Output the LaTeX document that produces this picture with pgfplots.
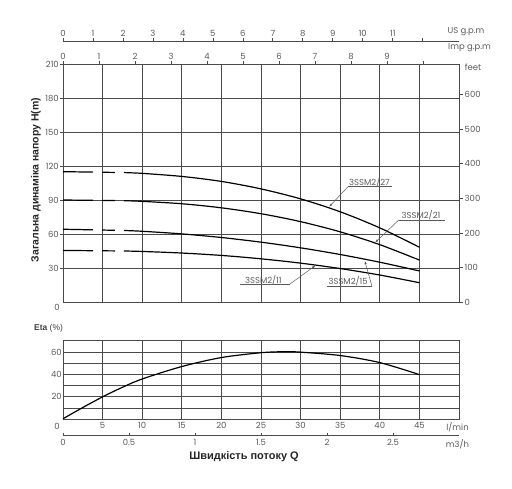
\documentclass[border=0pt]{standalone}
\usepackage{pgfplots}
\pgfplotsset{compat=1.18}
\usepackage{fontspec}
\setmainfont{Liberation Sans}
\newfontfamily\geo{Poppins}
\usetikzlibrary{arrows.meta}
\definecolor{gridc}{HTML}{4a4a4a}
\definecolor{txt}{HTML}{5a5a5a}
\tikzset{tl/.style={font=\geo\fontsize{8.5}{9}\selectfont, text=txt}}
\pgfplotsset{/pgf/number format/assume math mode=true}
\begin{document}
\begin{tikzpicture}
\useasboundingbox (0,0) rectangle (512bp,489bp);
% ---------------- main H axis
\begin{axis}[name=main, at={(63bp,187bp)}, anchor=south west, scale only axis,
  width=396bp, height=238bp, xmin=0, xmax=50, ymin=0, ymax=210,
  xtick={0,5,...,50}, xticklabels={}, ytick={30,60,...,210},
  grid=major, major grid style={gridc, line width=0.75bp},
  axis line style={gridc, line width=0.8bp},
  xtick style={draw=none}, ytick pos=left, tick align=outside,
  major tick length=3bp, ytick style={gridc, line width=0.7bp},
  yticklabel style={tl, inner sep=1bp},
  clip=false]
\addplot[black, line width=1.2bp, dash pattern=on 30bp off 9bp on 13bp off 9bp] coordinates {(0,115) (7.7,114.2)};
\addplot[black, line width=1.2bp, smooth] coordinates {(7.7,114.2) (10,113.5) (15,110.8) (20,106.4) (25,99.8) (30,91.0) (35,79.6) (40,65.4) (45,48.3)};
\addplot[black, line width=1.2bp, dash pattern=on 30bp off 9bp on 13bp off 9bp] coordinates {(0,90) (7.7,89.4)};
\addplot[black, line width=1.2bp, smooth] coordinates {(7.7,89.4) (10,88.8) (15,86.7) (20,83.1) (25,77.9) (30,70.9) (35,61.9) (40,50.6) (45,37)};
\addplot[black, line width=1.2bp, dash pattern=on 30bp off 9bp on 13bp off 9bp] coordinates {(0,64.2) (7.7,63.1)};
\addplot[black, line width=1.2bp, smooth] coordinates {(7.7,63.1) (10,62.4) (15,60.1) (20,56.9) (25,52.8) (30,47.8) (35,41.9) (40,35.1) (45,27.4)};
\addplot[black, line width=1.2bp, dash pattern=on 30bp off 9bp on 13bp off 9bp] coordinates {(0,45.5) (7.7,45.0)};
\addplot[black, line width=1.2bp, smooth] coordinates {(7.7,45.0) (10,44.6) (15,43.2) (20,41.1) (25,38.1) (30,34.3) (35,29.5) (40,23.8) (45,17)};
% labels
\draw[txt, line width=0.5bp] (axis cs:41.5,101.8) -- (axis cs:36.0,101.8) edge[-{Latex[length=3.5bp,width=2.2bp]}] (axis cs:33.6,84.0);
\node[tl] at (axis cs:38.7,105.6) {3SSM2/27};
\draw[txt, line width=0.5bp] (axis cs:48.2,72.4) -- (axis cs:42.4,72.4) edge[-{Latex[length=3.5bp,width=2.2bp]}] (axis cs:39.4,52.4);
\node[tl] at (axis cs:45.2,76.6) {3SSM2/21};
\draw[txt, line width=0.5bp] (axis cs:33.3,14.1) -- (axis cs:39.0,14.1) edge[-{Latex[length=3.5bp,width=2.2bp]}] (axis cs:38.1,36.4);
\node[tl] at (axis cs:36.0,17.9) {3SSM2/15};
\draw[txt, line width=0.5bp] (axis cs:22.3,15.6) -- (axis cs:28.6,15.6) edge[-{Latex[length=3.5bp,width=2.2bp]}] (axis cs:31.9,32.3);
\node[tl] at (axis cs:25.3,19.5) {3SSM2/11};
\node[tl] at ([xshift=-6bp,yshift=-5bp]rel axis cs:0,0) {0};
\node[tl] at ([xshift=14bp,yshift=-3bp]rel axis cs:1,1) {feet};
\end{axis}
% ---------------- feet axis
\begin{axis}[at={(63bp,187bp)}, anchor=south west, scale only axis,
  width=396bp, height=238bp, xmin=0, xmax=50, ymin=0, ymax=688.98,
  axis x line=none, axis y line*=right, ytick={0,100,...,600},
  tick align=outside, major tick length=4bp,
  axis line style={gridc, line width=0.8bp}, ytick style={gridc, line width=0.7bp},
  yticklabel style={tl, inner sep=1.5bp}]
\addplot[draw=none] coordinates {(0,0)};
\end{axis}
% ---------------- Imp gpm axis
\begin{axis}[at={(63bp,425bp)}, anchor=north west, scale only axis,
  width=396bp, height=20bp, xmin=0, xmax=10.998, ymin=0, ymax=1,
  axis y line=none, axis x line*=top, xtick={0,1,...,10},
  xticklabels={0,1,2,3,4,5,6,7,8,9,{}},
  tick align=outside, major tick length=3bp,
  axis line style={gridc, line width=0.8bp}, xtick style={gridc, line width=0.7bp},
  xticklabel style={tl, inner sep=1bp}]
\addplot[draw=none] coordinates {(0,0)};
\end{axis}
% ---------------- US gpm axis
\begin{axis}[at={(63bp,448bp)}, anchor=north west, scale only axis,
  width=396bp, height=20bp, xmin=0, xmax=13.21, ymin=0, ymax=1,
  axis y line=none, axis x line*=top, xtick={0,1,...,12},
  xticklabels={0,1,2,3,4,5,6,7,8,9,10,11,{}},
  tick align=outside, major tick length=3bp,
  axis line style={gridc, line width=0.8bp}, xtick style={gridc, line width=0.7bp},
  xticklabel style={tl, inner sep=1bp}]
\addplot[draw=none] coordinates {(0,0)};
\end{axis}
% ---------------- Eta axis
\begin{axis}[at={(63bp,69.7bp)}, anchor=south west, scale only axis,
  width=396bp, height=78.6bp, xmin=0, xmax=50, ymin=0, ymax=70,
  xtick={5,10,...,45}, ytick={20,40,60}, minor ytick={10,30,50},
  grid=both, major grid style={gridc, line width=0.75bp}, minor grid style={gridc, line width=0.75bp},
  axis line style={gridc, line width=0.8bp},
  major tick length=0pt, minor tick length=0pt,
  xticklabel style={tl, inner sep=1bp, yshift=-1.5bp}, yticklabel style={tl, inner sep=1bp},
  clip=false]
\addplot[black, line width=1.2bp, smooth] coordinates {(0,0.5) (2.5,10.5) (5,20) (7.5,28.5) (10,35.9) (15,47) (20,55) (25,59.3) (28,60.2) (30,59.8) (35,56.8) (40,50.5) (45,39.8)};
\node[tl] at ([xshift=-6bp,yshift=-7bp]rel axis cs:0,0) {0};
\end{axis}
% ---------------- m3/h axis
\begin{axis}[at={(63bp,53.3bp)}, anchor=south west, scale only axis,
  width=396bp, height=10bp, xmin=0, xmax=3, ymin=0, ymax=1,
  axis y line=none, axis x line*=bottom, xtick={0,0.5,...,2.5},
  tick align=inside, major tick length=3bp,
  axis line style={gridc, line width=0.8bp}, xtick style={gridc, line width=0.7bp},
  xticklabel style={tl, inner sep=1bp, yshift=-2bp}]
\addplot[draw=none] coordinates {(0,0)};
\end{axis}
% ---------------- free labels
\node[tl] at (466bp,457.5bp) {US g.p.m};
\node[tl] at (469.5bp,441bp) {Imp g.p.m};
\node[tl] at (457.5bp,62bp) {l/min};
\node[tl] at (457.5bp,44.7bp) {m3/h};
\node[rotate=90, font=\bfseries\fontsize{10.5}{12}\selectfont, text=black!85] at (36bp,309bp) {Загальна динаміка напору H(m)};
\node[font=\fontsize{8.5}{9}\selectfont, text=black!75] at (48.5bp,160.7bp) {\textbf{Eta} (\%)};
\node[font=\bfseries\fontsize{11}{13}\selectfont, text=black!85] at (244bp,32.3bp) {Швидкість потоку Q};
\end{tikzpicture}
\end{document}
